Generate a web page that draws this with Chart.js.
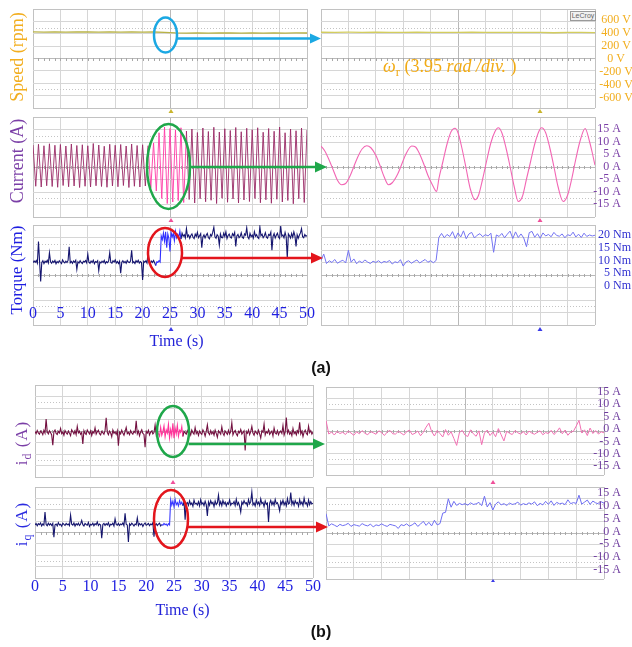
<!DOCTYPE html>
<html>
<head>
<meta charset="utf-8">
<script src="https://cdn.jsdelivr.net/npm/chart.js@4.4.1/dist/chart.umd.min.js"></script>
<style>
  html, body { margin:0; padding:0; background:#ffffff; }
  #wrap { position:relative; width:632px; height:647px; overflow:hidden; background:#ffffff; }
  #wrap canvas { position:absolute; left:0; top:0; z-index:1; }
  .txt { position:absolute; z-index:3; white-space:nowrap; line-height:1; font-family:"Liberation Serif","Times New Roman",serif; transform:translate(-50%,-50%); }
  .rot { transform:translate(-50%,-50%) rotate(-90deg); }
  .sb { font-size:70%; position:relative; top:0.3em; }
  #overlay { position:absolute; left:0; top:0; z-index:4; }
</style>
</head>
<body>
<div id="wrap">
  <div class="txt rot" style="left:16.5px;top:57px;font-size:18px;color:#F2AE1F;">Speed (rpm)</div>
  <div class="txt rot" style="left:16.5px;top:160.5px;font-size:18px;color:#7A3EA6;">Current (A)</div>
  <div class="txt rot" style="left:16px;top:270px;font-size:17px;color:#1E1EE0;">Torque (Nm)</div>
  <div class="txt rot" style="left:21px;top:442.5px;font-size:17px;letter-spacing:1px;color:#7A3EA6;">i<span class="sb">d</span> (A)</div>
  <div class="txt rot" style="left:21px;top:523.5px;font-size:17px;letter-spacing:1px;color:#2B2BE0;">i<span class="sb">q</span> (A)</div>
  <div class="txt" style="left:176.5px;top:341px;font-size:16px;color:#2424D8;">Time (s)</div>
  <div class="txt" style="left:182.5px;top:610px;font-size:16px;color:#2424D8;">Time (s)</div>
  <div class="txt" style="left:383px;top:66px;font-size:18px;color:#F2AB14;transform:translate(0,-50%);"><i>ω</i><span class="sb">r</span> (3.95 <i>rad /div.</i> )</div>
  <div class="txt" style="left:321px;top:368px;font-family:'Liberation Sans',Arial,sans-serif;font-weight:bold;font-size:16px;color:#111111;">(a)</div>
  <div class="txt" style="left:321px;top:632px;font-family:'Liberation Sans',Arial,sans-serif;font-weight:bold;font-size:16px;color:#111111;">(b)</div>
  <div style="position:absolute;z-index:3;left:570px;top:11px;width:24px;height:8px;border:1px solid #9a9a9a;background:#f1f1f1;font-family:'Liberation Sans',Arial,sans-serif;font-size:7px;line-height:8px;color:#666;text-align:center;">LeCroy</div>
  <svg id="overlay" width="632" height="647" viewBox="0 0 632 647">
    <g fill="none" stroke-width="2.5">
      <ellipse cx="165.5" cy="35" rx="11.5" ry="17.5" stroke="#1BA8E3"/>
      <ellipse cx="168.5" cy="166.5" rx="21.5" ry="42.5" stroke="#1FA74A"/>
      <ellipse cx="165" cy="252.5" rx="17" ry="24.5" stroke="#E3151C"/>
      <ellipse cx="173" cy="431.5" rx="16" ry="25.5" stroke="#1FA74A"/>
      <ellipse cx="171" cy="519" rx="17" ry="29" stroke="#E3151C"/>
      <line x1="176.5" y1="38.5" x2="312" y2="38.5" stroke="#1BA8E3"/>
      <line x1="190" y1="167" x2="318" y2="167" stroke="#1FA74A"/>
      <line x1="181.5" y1="258" x2="314" y2="258" stroke="#E3151C"/>
      <line x1="188.5" y1="444" x2="316" y2="444" stroke="#1FA74A"/>
      <line x1="187.5" y1="527" x2="319" y2="527" stroke="#E3151C"/>
    </g>
    <polygon points="310,33.5 321,38.5 310,43.5" fill="#1BA8E3"/>
    <polygon points="315,161.5 327,167 315,172.5" fill="#1FA74A"/>
    <polygon points="311,252.5 323,258 311,263.5" fill="#E3151C"/>
    <polygon points="313,438.5 325,444 313,449.5" fill="#1FA74A"/>
    <polygon points="316,521.5 328,527 316,532.5" fill="#E3151C"/>
    <g>
      <polygon points="168.5,113 173.5,113 171,109" fill="#C9B52C"/>
      <polygon points="537.5,113 542.5,113 540,109" fill="#C9B52C"/>
      <polygon points="168.5,222 173.5,222 171,218" fill="#F0509A"/>
      <polygon points="537.5,222 542.5,222 540,218" fill="#F0509A"/>
      <polygon points="168.5,331 173.5,331 171,327" fill="#3A3AE8"/>
      <polygon points="537.5,331 542.5,331 540,327" fill="#3A3AE8"/>
      <polygon points="170.5,484 175.5,484 173,480" fill="#F0509A"/>
      <polygon points="490.5,484 495.5,484 493,480" fill="#F0509A"/>
      <polygon points="491,582 495,582 493,579" fill="#3A3AE8"/>
    </g>
  </svg>
</div>
<script>
// ================= DATA =================
// tick labels
const timeTickValues = [0,5,10,15,20,25,30,35,40,45,50];
const timeTickLabels = ['0','5','10','15','20','25','30','35','40','45','50'];
const divTickValues = [0,1,2,3,4,5,6,7,8,9,10];
const divRowValues = [-4,-3,-2,-1,0,1,2,3,4];
const speedTickValues = [-600,-400,-200,0,200,400,600];
const speedTickLabels = ['-600 V','-400 V','-200 V','0 V','200 V','400 V','600 V'];
const currentTickValues = [-15,-10,-5,0,5,10,15];
const currentTickLabels = ['-15 A','-10 A','-5 A','0 A','5 A','10 A','15 A'];
const torqueTickValues = [0,5,10,15,20];
const torqueTickLabels = ['0 Nm','5 Nm','10 Nm','15 Nm','20 Nm'];
const idTickValues = [-15,-10,-5,0,5,10,15];
const idTickLabels = ['-15 A','-10 A','-5 A','0 A','5 A','10 A','15 A'];
const iqTickValues = [-15,-10,-5,0,5,10,15];
const iqTickLabels = ['-15 A','-10 A','-5 A','0 A','5 A','10 A','15 A'];

// sampling intervals
const leftSampleStep = 0.2;      // s
const currentLeftStep = 0.5;     // s
const rightSampleStep = 0.1;     // div
const speedRightStep = 0.5;      // div

// speed (scope volts)
const speedLeftTime = [0,2,4,6,8,10,12,14,16,18,20,22,24,26,28,30,32,34,36,38,40,42,44,46,48,50];
const speedLeftValues = [416,414,417,413,416,415,412,417,414,416,413,415,409,402,399,401,398,400,402,399,401,398,400,399,401,400];
const speedRightValues = [411,410,412,410,411,410,409,411,410,409,410,411,410,409,410,410,409,404,410,410,406];

// phase current (A), left: successive peaks/troughs
const currentLeftValues = [
  8.6,-7.9,8.9,-8.2,8.3,-7.7,9.1,-8.0,8.5,-8.3,
  8.8,-7.6,8.2,-8.1,9.0,-7.8,8.4,-8.4,8.7,-7.9,
  8.3,-8.2,9.2,-7.7,8.6,-8.0,8.1,-8.3,8.9,-7.8,
  8.5,-8.1,8.8,-7.6,8.2,-8.4,9.0,-7.9,8.4,-8.2,
  8.7,-7.8,8.3,-8.5,9.4,-9.8,13.5,-12.8,15.8,-14.8,
  15.2,-14.2,14.6,-13.6,15.5,-14.4,14.2,-13.2,15.0,-14.6,
  13.6,-12.9,15.4,-14.1,14.0,-13.5,15.7,-14.8,13.8,-12.7,
  15.1,-14.3,14.4,-13.0,15.6,-14.6,13.9,-13.4,15.3,-14.0,
  14.7,-12.8,15.5,-14.5,13.7,-13.3,15.2,-14.7,14.1,-13.1,
  15.8,-14.2,13.5,-13.6,15.0,-14.9,14.3,-12.9,15.4,-14.4,
  14.6
];
const currentRightX = [0,0.15,0.3,0.45,0.6,0.75,0.9,1.05,1.2,1.35,1.5,1.67,1.82,2.0,2.15,2.3,2.46,2.6,2.8,2.95,3.1,3.31,3.45,3.6,3.75,3.9,4.05,4.22,4.3,4.45,4.6,4.75,4.89,5.0,5.15,5.3,5.45,5.62,5.75,5.9,6.05,6.2,6.35,6.47,6.6,6.75,6.9,7.05,7.2,7.35,7.5,7.65,7.8,7.95,8.05,8.2,8.35,8.5,8.65,8.84,9.0,9.15,9.3,9.45,9.64,9.8,9.9,10];
const currentRightY = [8.2,6,2.5,-1.5,-5.5,-7.3,-6.8,-4,0,4,7,8.3,7.5,4.5,0.5,-4,-7.3,-6.5,-3,1,5,8.2,7.8,5,1,-3.5,-7,-10,-5,2,9,14,15.3,13.5,7,-1,-9,-13.3,-11.5,-5,2.5,9.5,14,15.5,13.5,7.5,0,-8,-14,-12,-5,2,9,14,15.5,13.5,7.5,0,-8,-14,-11.5,-5,3,10,15.2,10,5.5,0.5];

// torque (Nm)
const torqueLeftValues = [
  9.1,9.8,9.3,10.0,8.9,17.4,9.6,1.8,9.2,9.9,
  8.8,9.7,9.3,10.1,9.0,13.0,9.5,8.9,9.8,9.2,
  10.0,8.7,9.6,9.1,9.9,9.3,8.8,10.2,9.4,9.0,
  9.7,9.2,10.0,15.4,9.1,9.6,8.9,9.8,9.3,10.1,
  6.5,9.5,9.0,9.9,9.2,8.8,9.7,9.4,10.0,9.1,
  12.5,9.3,8.9,9.8,9.2,10.1,8.7,9.6,9.3,9.9,
  6.0,9.4,9.0,9.7,9.2,10.0,8.8,9.5,9.1,9.8,
  13.0,9.2,8.9,9.9,9.4,10.2,9.0,9.6,8.8,9.7,
  5.0,9.3,9.9,9.1,9.6,8.9,10.0,9.4,9.2,9.8,
  14.0,9.1,9.5,8.8,9.9,9.3,10.1,9.0,9.6,9.2,
  2.4,9.7,9.3,9.9,9.0,13.0,9.4,8.9,9.8,9.2,
  10.0,9.1,8.0,9.5,9.3,9.9,9.4,
  19.6,18.2,20.8,17.5,21.2,15.0,20.4,18.6,13.5,21.0,
  19.2,20.6,17.8,21.4,18.9,20.2,19.0,21.5,18.4,20.7,
  19.5,20.1,18.8,22.5,19.3,20.0,18.7,19.8,20.4,19.1,
  18.6,20.3,19.4,21.0,18.9,19.7,20.5,15.0,19.2,20.0,
  18.8,19.9,20.6,19.0,18.5,20.2,19.6,21.1,23.0,19.3,
  18.7,20.1,19.5,16.0,20.4,19.0,18.9,20.7,19.4,21.2,
  18.6,19.8,20.3,19.1,18.8,20.5,19.7,21.0,15.5,19.6,
  20.2,18.9,19.4,20.8,19.0,18.7,20.4,19.9,22.8,19.2,
  18.5,20.6,19.3,20.0,18.8,21.3,19.5,20.1,19.0,18.6,
  23.2,19.7,20.3,18.9,19.6,20.9,19.1,18.7,20.2,19.8,
  21.1,14.0,19.4,20.5,18.8,19.9,20.7,19.2,18.6,23.5,
  19.5,20.0,18.9,21.0,19.3,11.0,20.4,19.7,18.8,20.6,
  19.1,21.2,19.6,15.5,20.1,18.7,19.9,20.8,22.5,19.3,
  18.9,20.2,19.5,19.8
];
const torqueRightValues = [
  10.0,12.5,8.8,9.9,9.2,10.4,8.9,9.6,10.1,9.0,
  14.0,9.3,10.6,8.7,9.8,9.1,10.2,9.4,8.8,9.7,
  9.2,9.9,9.0,9.6,9.3,10.0,8.6,9.5,9.1,10.3,
  7.8,9.4,9.9,8.9,9.6,10.2,9.0,9.7,10.4,9.3,
  9.9,9.1,10.0,
  19.0,20.6,18.9,20.2,19.4,21.3,18.6,20.8,19.2,21.6,
  18.5,20.4,21.0,18.8,19.9,20.5,19.3,20.1,19.6,20.7,
  13.2,20.0,19.4,20.6,18.9,20.3,21.5,18.6,21.2,19.0,
  20.4,18.8,15.4,20.9,21.4,19.1,20.5,18.7,20.8,19.6,
  20.2,19.3,21.0,19.8,19.5,20.4,18.9,20.1,19.7,21.1,
  19.2,20.3,19.0,20.7,19.4,20.0,19.6,19.9
];

// d-axis current (A)
const idLeftValues = [
  -1.0,-1.8,-0.6,-1.5,-2.0,-0.8,-1.3,-2.2,-0.5,-1.6,
  3.8,-1.1,-1.9,-0.7,-1.4,-2.3,-6.3,-1.0,-0.4,-1.7,
  -2.1,-0.9,-1.5,0.2,-1.8,-1.2,-2.4,-0.6,-1.4,-2.0,
  -0.8,-1.6,-2.6,-0.3,-1.1,-1.9,-0.7,-2.2,1.0,-1.5,
  -0.9,-2.0,-1.3,-5.8,-0.6,-1.7,-2.1,-0.4,-1.2,-1.9,
  -0.7,-2.5,-1.0,-1.6,0.4,-2.0,-1.1,-0.5,-1.8,-2.3,
  -0.9,-1.4,-2.0,-0.6,4.3,-1.3,-2.2,-0.8,-1.5,-3.0,
  -0.4,-1.7,-1.1,-2.1,-0.7,-6.5,-1.2,-1.9,-0.5,-1.6,
  -2.4,-1.0,0.6,-1.8,-1.3,-2.2,-0.6,-1.5,-2.0,-0.9,
  -1.4,3.2,-1.9,-0.8,-2.6,-1.1,-0.3,-1.7,-2.1,-7.0,
  -1.0,-1.6,-0.5,-2.3,-1.2,-0.8,-1.9,-1.4,1.5,-2.2,
  -0.7,-1.8,-2.8,0.6,-2.4,-1.0,1.2,-3.0,-0.4,-1.6,
  1.8,-3.4,-0.2,-2.5,2.2,-3.6,0.3,-1.9,1.4,-2.8,
  -0.5,-1.3,0.9,-2.9,-0.9,-1.5,-2.0,-0.6,-1.7,-1.1,
  -2.3,-0.4,-1.4,-2.0,0.5,-1.8,-1.0,-2.5,-0.8,-1.6,
  -2.1,-0.3,-1.2,-2.7,-0.9,1.6,-1.5,-2.2,-0.6,-1.9,
  -1.1,-2.4,-0.4,-1.7,-3.2,-0.7,-1.3,-2.0,0.8,-1.6,
  -2.5,-0.8,-1.4,-2.1,-0.5,-1.9,-1.0,2.4,-2.3,-1.2,
  -0.6,-1.8,-2.6,-0.9,-1.5,-0.2,-2.0,-1.3,-0.7,-8.3,
  -1.1,-1.7,-0.4,-2.2,-1.0,1.0,-1.6,-2.4,-0.8,-1.4,
  -2.0,-0.5,-1.9,-3.5,-0.7,-1.2,1.9,-2.3,-1.0,-1.6,
  -0.3,-2.1,-1.4,-0.8,-2.7,0.4,-1.5,-1.9,-0.6,-2.2,
  -1.1,-0.9,-1.7,1.3,-2.4,-1.0,4.4,-1.6,-0.5,-2.0,
  -1.3,-2.6,0.2,-1.8,-1.1,-2.3,-0.7,-1.5,2.6,-1.9,
  -0.8,-2.9,-1.2,-0.4,-1.7,-2.2,1.1,-1.4,-0.6,-2.0,
  -1.2
];
const idRightValues = [
  3.5,-2.0,-1.2,-2.4,-0.9,-1.8,-1.3,-2.2,-0.8,-1.6,
  -2.5,-1.1,-1.9,-0.6,-1.7,-2.3,-1.0,-1.5,-2.1,-0.7,
  -1.4,-2.6,-1.2,-0.5,-1.9,-2.0,-0.9,-1.6,-2.4,-1.1,
  -0.4,-2.2,-1.7,-0.8,-2.7,-1.3,0.8,2.4,-1.0,-2.8,
  -0.6,-1.8,-3.2,-0.2,-2.5,-1.1,-3.8,-6.6,-1.4,-0.5,
  -2.4,-3.0,-0.3,-1.9,-2.9,-0.7,-6.3,-1.6,-0.4,-2.6,
  -1.2,-3.1,0.2,-2.3,-4.8,-0.9,-1.7,-2.2,-0.6,-1.5,
  -2.0,-1.0,-2.4,-0.8,-1.6,-2.1,-1.3,-0.7,-2.3,-1.4,
  -1.8,-0.5,-2.2,-1.1,0.5,-1.9,-0.4,-2.5,-1.2,-0.9,
  1.2,3.5,-1.6,-0.3,-2.6,0.4,-1.8,-0.6,-2.0,-1.1,
  -1.5
];

// q-axis current (A)
const iqLeftValues = [
  2.4,3.0,2.1,2.9,2.5,3.2,2.0,2.8,2.3,7.5,
  2.6,2.1,3.1,2.4,2.9,2.2,3.0,-2.4,2.5,2.8,
  2.0,3.3,2.4,2.7,1.9,3.1,2.6,2.2,3.0,2.5,
  2.8,2.1,6.3,2.7,2.3,3.2,2.0,2.9,2.4,3.1,
  2.2,2.8,4.2,2.5,2.0,3.0,2.6,2.3,3.4,1.8,
  2.7,2.4,3.1,2.1,2.9,2.5,3.6,2.2,2.8,2.4,
  -2.8,2.6,3.0,2.2,2.9,2.4,3.3,1.9,2.7,2.5,
  3.1,2.0,4.8,2.6,2.3,3.0,2.2,2.8,2.5,3.2,
  2.1,7.0,2.7,2.4,-4.3,2.9,2.3,3.1,2.6,2.0,
  2.8,2.5,5.2,2.2,3.0,2.4,2.9,1.8,2.7,3.2,
  2.3,2.6,3.0,2.1,2.8,2.5,3.3,-2.2,2.4,2.9,
  2.2,2.7,3.1,2.0,2.6,2.3,3.0,2.5,2.8,2.1,
  2.9,2.4,12.3,10.2,11.8,9.6,12.5,10.4,11.2,9.9,
  12.0,10.6,11.4,10.0,11.7,4.5,10.8,11.3,10.1,11.9,
  10.5,11.1,9.8,12.2,10.7,11.0,10.3,11.6,9.9,12.4,
  10.6,11.2,10.0,11.8,10.4,6.0,11.5,10.2,12.0,10.8,
  11.3,9.7,11.9,10.5,11.1,14.2,10.3,11.6,10.0,12.1,
  10.7,11.4,9.9,11.2,10.6,12.3,10.2,11.0,10.8,11.7,
  10.1,12.6,10.4,11.3,9.8,7.5,11.5,10.6,12.0,10.9,
  11.2,10.0,12.4,10.7,11.6,15.4,10.3,11.1,9.9,12.2,
  10.6,11.4,10.1,12.7,10.8,11.3,9.7,11.9,10.5,11.0,
  3.6,10.9,12.1,10.4,11.5,10.2,12.5,10.8,11.2,9.9,
  8.0,11.7,10.6,12.2,10.3,11.4,10.0,12.8,10.7,11.1,
  15.2,10.5,11.8,10.2,12.0,10.9,11.3,9.8,12.4,10.6,
  11.5,10.1,13.0,10.8,11.2,9.9,12.3,10.4,11.6,10.7,
  11.0
];
const iqRightValues = [
  7.0,2.2,3.0,2.5,1.9,2.8,2.3,2.6,3.2,2.0,
  2.7,2.4,2.1,3.1,2.5,2.2,2.9,1.8,2.6,2.3,
  3.0,2.4,2.0,2.8,2.5,2.2,1.2,2.7,2.3,3.0,
  2.1,2.6,3.4,2.0,2.9,4.0,2.4,3.6,2.2,4.4,
  2.6,3.1,7.2,7.5,12.8,9.5,11.8,10.2,11.0,10.5,
  10.9,10.3,11.2,10.6,10.8,11.4,10.1,13.8,9.6,11.3,
  8.4,10.7,11.6,10.4,10.9,10.2,11.1,10.6,10.8,11.5,
  10.3,10.9,10.5,11.2,10.7,11.6,10.1,11.0,10.4,11.8,
  10.6,12.0,10.2,11.4,10.8,11.1,10.5,12.4,10.9,11.3,
  11.0,14.2,10.7,11.5,12.3,10.6,11.9,11.2,10.8,11.6,
  11.1
];

// ================= BUILD =================
const SERIF = '"Liberation Serif","Times New Roman",serif';
const wrap = document.getElementById('wrap');
const overlay = document.getElementById('overlay');
const dottedRows = [-2.5, 2.5];

const pts = (xs, ys) => ys.map((v, i) => ({ x: xs[i], y: v }));
const ptsStep = (dt, ys) => ys.map((v, i) => ({ x: i * dt, y: v }));

function gridColor(v, lo, hi) {
  if (v === lo || v === hi) return '#c2c2c2';
  if (v === (lo + hi) / 2) return '#b9b9b9';
  return '#d6d6d6';
}

const scopePlugin = {
  id: 'scope',
  beforeDatasetsDraw(chart) {
    const { ctx, chartArea: a, scales } = chart;
    const x = scales.x, y = scales.y;
    ctx.save();
    ctx.lineWidth = 1;
    ctx.strokeStyle = '#c4c4c4';
    ctx.setLineDash([1, 2]);
    dottedRows.forEach(v => {
      const py = Math.round(y.getPixelForValue(v)) + 0.5;
      ctx.beginPath(); ctx.moveTo(a.left, py); ctx.lineTo(a.right, py); ctx.stroke();
    });
    ctx.setLineDash([]);
    ctx.strokeStyle = '#a8a8a8';
    const cy = Math.round(y.getPixelForValue(0)) + 0.5;
    ctx.beginPath();
    for (let k = 1; k < 50; k++) {
      const px = Math.round(x.getPixelForValue(x.min + (x.max - x.min) * k / 50)) + 0.5;
      ctx.moveTo(px, cy - 1.5); ctx.lineTo(px, cy + 1.5);
    }
    ctx.stroke();
    ctx.restore();
  }
};

const axes = {
  speed:   { min: -754,  max: 769,  vals: speedTickValues,   labels: speedTickLabels,   color: '#F2AE1F', align: 'center', dx: 21 },
  current: { min: -20.2, max: 19.8, vals: currentTickValues, labels: currentTickLabels, color: '#7A3EA6', align: 'right', dx: 26 },
  torque:  { min: -15.3, max: 23.9, vals: torqueTickValues,  labels: torqueTickLabels,  color: '#3030D0', align: 'right', dx: 36 },
  id:      { min: -18.55, max: 17.0, vals: idTickValues,     labels: idTickLabels,      color: '#6E3C9E', align: 'right', dx: 17 },
  iq:      { min: -18.55, max: 17.4, vals: iqTickValues,     labels: iqTickLabels,      color: '#6E3C9E', align: 'right', dx: 17 }
};

function makePanel(p) {
  const c = document.createElement('canvas');
  c.width = 632; c.height = 647;
  wrap.insertBefore(c, overlay);
  const [l, t, r, b] = p.rect;
  const ax = axes[p.axis];
  const xt = p.xTicks;
  const datasets = p.series.map(s => {
    const d = {
      data: s.data, borderColor: s.color, borderWidth: s.width || 1,
      pointRadius: 0, fill: false, xAxisID: 'x', yAxisID: 'v'
    };
    if (s.smooth) { d.cubicInterpolationMode = 'monotone'; d.tension = 0.4; } else { d.tension = 0; }
    if (s.bright) {
      d.segment = { borderColor: ctx => (ctx.p0.parsed.x >= s.bright[0] && ctx.p1.parsed.x <= s.bright[1]) ? s.bright[2] : undefined };
    }
    return d;
  });
  // labels drawn at the library scale positions
  const labelPlugin = {
    id: 'scopeLabels',
    afterDraw(chart) {
      const ctx = chart.ctx, a = chart.chartArea;
      ctx.save();
      ctx.textBaseline = 'middle';
      if (p.showLabels) {
        const s = chart.scales.v;
        ctx.font = '12px ' + SERIF;
        ctx.fillStyle = ax.color;
        ctx.textAlign = ax.align;
        ax.vals.forEach((v, i) => ctx.fillText(ax.labels[i], a.right + ax.dx, s.getPixelForValue(v)));
      }
      if (p.xLabels) {
        const s = chart.scales.x;
        ctx.font = '16px ' + SERIF;
        ctx.fillStyle = '#1F1FE0';
        ctx.textAlign = 'center';
        p.xLabelVals.forEach((v, i) => ctx.fillText(p.xLabels[i], s.getPixelForValue(v), a.bottom + p.xLabelDy));
      }
      ctx.restore();
    }
  };
  new Chart(c, {
    type: 'line',
    data: { datasets },
    options: {
      responsive: false, animation: false, devicePixelRatio: 1, events: [],
      layout: { padding: { left: l, top: t, right: 632 - r, bottom: 647 - b } },
      plugins: { legend: { display: false }, tooltip: { enabled: false }, title: { display: false } },
      scales: {
        x: {
          type: 'linear', position: 'bottom', min: xt[0], max: xt[xt.length - 1],
          afterBuildTicks: s => { s.ticks = xt.map(v => ({ value: v })); },
          ticks: { display: false },
          grid: { drawTicks: false, color: ctx => gridColor(ctx.tick ? ctx.tick.value : -1, xt[0], xt[xt.length - 1]) },
          border: { display: false },
          afterFit: s => { s.height = 0; s.paddingLeft = 0; s.paddingRight = 0; }
        },
        y: {
          type: 'linear', position: 'left', min: -4, max: 4,
          afterBuildTicks: s => { s.ticks = divRowValues.map(v => ({ value: v })); },
          ticks: { display: false },
          grid: { drawTicks: false, color: ctx => gridColor(ctx.tick ? ctx.tick.value : 1, -4, 4) },
          border: { display: false },
          afterFit: s => { s.width = 0; s.paddingTop = 0; s.paddingBottom = 0; }
        },
        v: {
          type: 'linear', position: 'right', min: ax.min, max: ax.max, display: false
        }
      }
    },
    plugins: [scopePlugin, labelPlugin]
  });
}

// ---- (a) ----
makePanel({ rect: [33, 9, 307, 108], axis: 'speed', xTicks: timeTickValues,
  series: [{ data: pts(speedLeftTime, speedLeftValues), color: '#B8B246', width: 1.3 }] });
makePanel({ rect: [321, 9, 595, 108], axis: 'speed', xTicks: divTickValues, showLabels: true,
  series: [{ data: ptsStep(speedRightStep, speedRightValues), color: '#D3CD5E', width: 1.3 }] });

makePanel({ rect: [33, 117, 307, 217], axis: 'current', xTicks: timeTickValues,
  series: [{ data: ptsStep(currentLeftStep, currentLeftValues), color: '#9A2A66', width: 0.9, bright: [21.0, 28.0, '#FF3AA6'] }] });
makePanel({ rect: [321, 117, 595, 217], axis: 'current', xTicks: divTickValues, showLabels: true,
  series: [{ data: pts(currentRightX, currentRightY), color: '#F266B4', width: 1.1, smooth: true }] });

makePanel({ rect: [33, 225, 307, 325], axis: 'torque', xTicks: timeTickValues,
  xLabels: timeTickLabels, xLabelVals: timeTickValues, xLabelDy: -11.5,
  series: [{ data: ptsStep(leftSampleStep, torqueLeftValues), color: '#15156F', width: 1.1, bright: [22.4, 27.2, '#3030FF'] }] });
makePanel({ rect: [321, 225, 595, 325], axis: 'torque', xTicks: divTickValues, showLabels: true,
  series: [{ data: ptsStep(rightSampleStep, torqueRightValues), color: '#7474F2', width: 1 }] });

// ---- (b) ----
makePanel({ rect: [35, 385, 313, 477], axis: 'id', xTicks: timeTickValues,
  series: [{ data: ptsStep(leftSampleStep, idLeftValues), color: '#731040', width: 1.1, bright: [21.9, 26.6, '#FF3399'] }] });
makePanel({ rect: [326, 387, 604, 475], axis: 'id', xTicks: divTickValues, showLabels: true,
  series: [{ data: ptsStep(rightSampleStep, idRightValues), color: '#F270B3', width: 1 }] });

makePanel({ rect: [35, 487, 313, 578], axis: 'iq', xTicks: timeTickValues,
  xLabels: timeTickLabels, xLabelVals: timeTickValues, xLabelDy: 9,
  series: [{ data: ptsStep(leftSampleStep, iqLeftValues), color: '#16166E', width: 1.1, bright: [22.8, 26.6, '#3B3BFF'] }] });
makePanel({ rect: [326, 487, 604, 579], axis: 'iq', xTicks: divTickValues, showLabels: true,
  series: [{ data: ptsStep(rightSampleStep, iqRightValues), color: '#6E6EF2', width: 1 }] });
</script>
</body>
</html>
